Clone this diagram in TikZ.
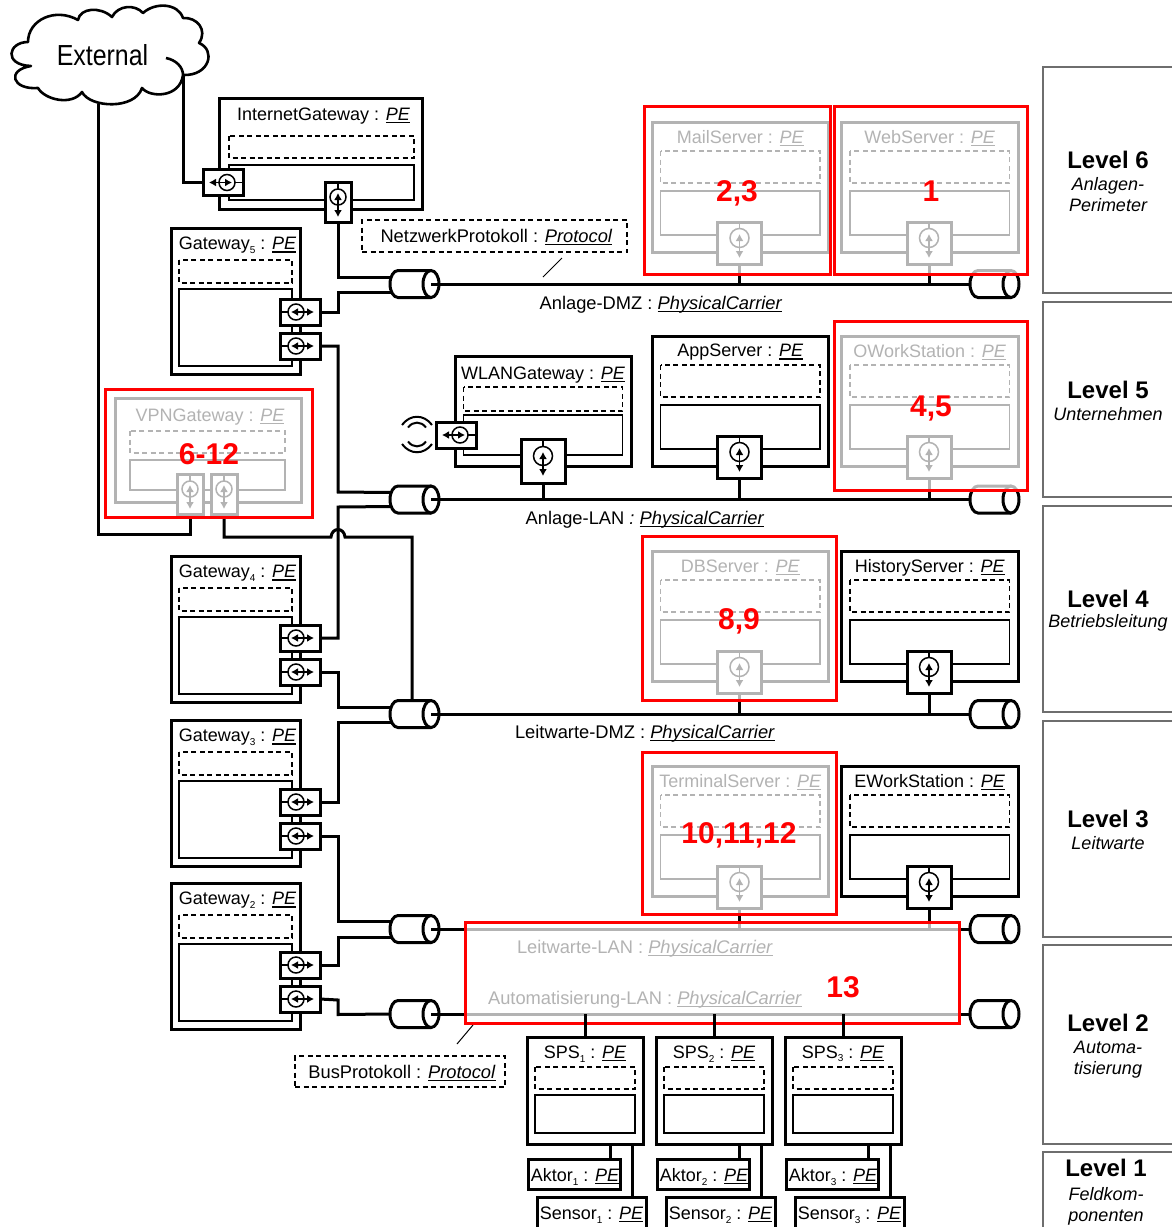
\documentclass[tikz,border=0pt]{standalone}
\usepackage{fontspec}
\setmainfont{Liberation Sans}
\usepackage{xcolor}
\usepackage{tikz}
\usetikzlibrary{arrows.meta}

\definecolor{levelgray}{HTML}{6E6E6E}
\definecolor{markred}{HTML}{FF0000}

\newcommand{\cls}[1]{\sbox0{\textit{#1}}\rlap{\rule[-2.6pt]{\wd0}{1.2pt}}\usebox0}
\newcommand{\lowidx}[1]{\raisebox{-3.5pt}{\fontsize{10}{10}\selectfont #1}}

\tikzset{
  pebox/.style={draw,line width=3pt,inner sep=0pt,outer sep=0pt,fill=white},
  petitle/.style={font=\fontsize{18}{20}\selectfont,inner sep=0pt},
  labeltext/.style={font=\fontsize{18.3}{20}\selectfont,inner sep=0pt},
  dashin/.style={line width=1.7pt,dash pattern=on 5pt off 3.5pt},
  solidin/.style={line width=1.9pt},
  portbox/.style={draw,line width=3pt,fill=white,inner sep=0pt,outer sep=0pt},
  portline/.style={line width=1.5pt},
  portarrow/.style={line width=1.6pt,>={Latex[length=7pt,width=8pt]},<->},
  wire/.style={line width=3pt,line join=miter},
  thinwire/.style={line width=1pt},
  carrier/.style={minimum width=49pt,minimum height=27pt,inner sep=0pt,outer sep=0pt},
  carrierline/.style={line width=3pt},
  notebox/.style={draw,line width=1.7pt,dash pattern=on 5pt off 3.5pt,inner sep=0pt,font=\fontsize{18.3}{20}\selectfont},
  redbox/.style={draw=markred,line width=3pt,fill=white,fill opacity=.7,draw opacity=1,inner sep=0pt,outer sep=0pt,anchor=north west},
  rednum/.style={text=markred,font=\bfseries\fontsize{30}{32}\selectfont,inner sep=0pt},
  leveltitle/.style={font=\bfseries\fontsize{24}{26}\selectfont,inner sep=0pt},
  levelsub/.style={font=\itshape\fontsize{18}{21}\selectfont,align=center,inner sep=0pt},
  levelline/.style={draw=levelgray,line width=2.5pt},
}

% name, x, y, width, height, title offset, title
\newcommand{\pe}[7]{
  \node[pebox,minimum width=#4,minimum height=#5,anchor=north west] (#1) at (#2,#3) {};
  \node[petitle] (#1t) at ([yshift=-#6pt]#1.north) {#7};
}
% name, inset, dashed top, dashed bottom, solid top, solid bottom
\newcommand{\pein}[6]{
  \draw[dashin] ([shift={(#2pt,-#3pt)}]#1.north west) rectangle ([shift={(-#2pt,-#4pt)}]#1.north east);
  \draw[solidin] ([shift={(#2pt,-#5pt)}]#1.north west) rectangle ([shift={(-#2pt,-#6pt)}]#1.north east);
}
% name, x, y, side (1: circle left, -1: circle right)
\newcommand{\hport}[4]{
  \node[portbox,minimum width=40,minimum height=26] (#1) at (#2,#3) {};
  \draw[portline] ([xshift=-#4*20pt]#1.center) -- ([xshift=-#4*12pt]#1.center);
  \draw[portline] ([xshift=-#4*4pt]#1.center) circle[radius=8pt];
  \draw[portarrow] ([xshift=-#4*9pt]#1.center) -- ([xshift=#4*14pt]#1.center);
}
% name, x, y, width, height, radius
\newcommand{\vport}[6]{
  \node[portbox,minimum width=#4,minimum height=#5] (#1) at (#2,#3) {};
  \draw[portline] (#1.north) -- ++(0,7);
  \draw[portline] ([yshift=5pt]#1.center) circle[radius=#6pt];
  \draw[portarrow] ([yshift=9pt]#1.center) -- ([yshift=-15pt]#1.center);
}
% name, x, y, title
\newcommand{\server}[4]{
  \pe{#1}{#2}{#3}{176.5}{130}{16.5}{#4}
  \pein{#1}{8.5}{29}{61}{69}{113}
  \vport{#1p}{#2+87.5}{#3+121}{44}{42}{9.5}
}
% name, y, index, port offset
\newcommand{\gateway}[4]{
  \pe{#1}{171}{#2}{129}{146}{17.5}{\hspace{4pt}Gateway\lowidx{#3} : \cls{PE}}
  \pein{#1}{8}{32}{55}{61}{138}
  \hport{#1a}{300}{#2+#4}{1}
  \hport{#1b}{300}{#2+#4+34}{1}
}
% name, y
\newcommand{\carrierpart}[2]{
  \node[carrier] (#1) at (#2) {};
  \draw[carrierline,fill=white] ([xshift=16.5pt]#1.north) -- ([xshift=-16.5pt]#1.north)
    arc[start angle=90,end angle=270,x radius=8pt,y radius=13.5pt] -- ([xshift=16.5pt]#1.south);
  \draw[carrierline,fill=white] ([xshift=16.5pt]#1.center) ellipse[x radius=8pt,y radius=13.5pt];
}

\begin{document}
\begin{tikzpicture}[x=1pt,y=-1pt]
  \useasboundingbox (0,0) rectangle (1172,1227);
  \clip (0,0) rectangle (1172,1227);
  \fill[white] (0,0) rectangle (1172,1227);

  % level frames
  \draw[levelline] (1172,67) -- (1043,67) -- (1043,293) -- (1172,293);
  \draw[levelline] (1172,302) -- (1043,302) -- (1043,497) -- (1172,497);
  \draw[levelline] (1172,506) -- (1043,506) -- (1043,712) -- (1172,712);
  \draw[levelline] (1172,721) -- (1043,721) -- (1043,937) -- (1172,937);
  \draw[levelline] (1172,945) -- (1043,945) -- (1043,1144) -- (1172,1144);
  \draw[levelline] (1172,1152) -- (1043,1152) -- (1043,1240);
  \node[leveltitle] (lev6) at (1108,160) {Level 6};
  \node[levelsub] (lev6s) at (1108,195) {Anlagen-\\Perimeter};
  \node[leveltitle] (lev5) at (1108,390) {Level 5};
  \node[levelsub] (lev5s) at (1108,414) {Unternehmen};
  \node[leveltitle] (lev4) at (1108,599) {Level 4};
  \node[levelsub] (lev4s) at (1108,623) {Betriebsleitung};
  \node[leveltitle] (lev3) at (1108,819) {Level 3};
  \node[levelsub] (lev3s) at (1108,843) {Leitwarte};
  \node[leveltitle] (lev2) at (1108,1023) {Level 2};
  \node[levelsub] (lev2s) at (1108,1060) {Automa-\\tisierung};
  \node[leveltitle] (lev1) at (1106,1168) {Level 1};
  \node[levelsub] (lev1s) at (1106,1206) {Feldkom-\\ponenten};

  % cloud
  \draw[line width=2.6pt,line join=round] (166,58) .. controls (176,60) and (183,67) .. (183,75)
    .. controls (210,76) and (216,50) .. (199,43)
    .. controls (208,30) and (197,17) .. (183,18)
    .. controls (178,3) and (155,2) .. (143,13)
    .. controls (135,4) and (118,5) .. (112,17)
    .. controls (100,6) and (80,8) .. (78,20)
    .. controls (55,7) and (28,20) .. (28,42)
    .. controls (8,42) and (3,65) .. (31,66)
    .. controls (6,70) and (12,90) .. (38,88)
    .. controls (45,100) and (72,106) .. (82,92)
    .. controls (90,108) and (135,110) .. (142,88)
    .. controls (150,98) and (180,98) .. (183,75);
  \node[inner sep=0pt] (external) at (102.5,55) {\fontsize{29}{30}\selectfont\scalebox{.86}[1]{External}};
  \coordinate (extA) at (183,75);
  \coordinate (extB) at (98,104);

  % elements
  \pe{inet}{219}{98}{203}{111}{18}{\hspace{6pt}InternetGateway : \cls{PE}}
  \draw[dashin] (229,136) rectangle (414,158);
  \draw[solidin] (229,165) rectangle (414,200);
  \hport{ineta}{223}{182.5}{-1}
  \vport{inetb}{338}{202}{26}{40}{8}

  \gateway{gwf}{228}{5}{84}
  \gateway{gwv}{556}{4}{82}
  \gateway{gwd}{720}{3}{82}
  \gateway{gwz}{883}{2}{82}

  \pe{vpn}{115}{398}{186}{104}{19}{\hspace{4pt}VPNGateway : \cls{PE}}
  \draw[dashin] (130,431) rectangle (285,453);
  \draw[solidin] (130,460) rectangle (285,490);
  \vport{vpna}{190}{494}{26}{40}{8}
  \vport{vpnb}{224}{494}{26}{40}{8}

  \pe{wlan}{455}{356}{176}{110}{19}{WLANGateway : \cls{PE}}
  \pein{wlan}{8.5}{31}{55}{59}{99}
  \hport{wlana}{456}{435}{-1}
  \vport{wlanb}{543}{461}{44}{44}{9.5}
  \draw[line width=2pt] (402,425) .. controls (410,414) and (424,414) .. (432,425);
  \draw[line width=2pt] (408,427.5) .. controls (413,421) and (421,421) .. (426,427.5);
  \draw[line width=2pt] (402,444) .. controls (410,455) and (424,455) .. (432,444);
  \draw[line width=2pt] (408,441.5) .. controls (413,448) and (421,448) .. (426,441.5);

  \server{mail}{652}{122}{MailServer : \cls{PE}}
  \server{web}{841.5}{122}{WebServer : \cls{PE}}
  \server{app}{652}{336}{AppServer : \cls{PE}}
  \server{owork}{841.5}{336}{OWorkStation : \cls{PE}}
  \server{db}{652}{551}{DBServer : \cls{PE}}
  \server{hist}{841.5}{551}{HistoryServer : \cls{PE}}
  \server{term}{652}{766}{TerminalServer : \cls{PE}}
  \server{ework}{841.5}{766}{EWorkStation : \cls{PE}}

  % carriers
  \foreach \n/\y in {dmz/284,lan/499.5,ldmz/714,llan/929,auto/1014} {
    \carrierpart{\n L}{414.5,\y}
    \carrierpart{\n R}{994.5,\y}
    \draw[wire] ([xshift=-8pt]\n L.east) -- (\n R.west);
  }

  % wires
  \draw[wire] (extA) -- (extA |- ineta.west) -- (ineta.west);
  \draw[wire] (inetb.south) -- (338,277) -- ([shift={(1.5pt,7pt)}]dmzL.west);
  \draw[wire] (gwfa.east) -- (338,312) -- (338,292) -- ([shift={(1.5pt,-8pt)}]dmzL.west);
  \draw[wire] (gwfb.east) -- (338,346) -- (338,492) -- ([shift={(1.5pt,7pt)}]lanL.west);
  \draw[wire] (gwva.east) -- (338,638) -- (338,507) -- ([shift={(1.5pt,-7pt)}]lanL.west);
  \draw[wire] (gwvb.east) -- (338,672) -- (338,707) -- ([shift={(1.5pt,7pt)}]ldmzL.west);
  \draw[wire] (gwda.east) -- (338,802) -- (338,722) -- ([shift={(1.5pt,-8pt)}]ldmzL.west);
  \draw[wire] (gwdb.east) -- (338,836) -- (338,921) -- ([shift={(1.5pt,8pt)}]llanL.west);
  \draw[wire] (gwza.east) -- (338,965) -- (338,937) -- ([shift={(1.5pt,-8pt)}]llanL.west);
  \draw[wire] (gwzb.east) -- (338,1000) -- (338,1014.5) -- (autoL.west);
  \draw[wire] (vpna.south) -- (190,534.5) -- (98,534.5) -- (extB);
  \draw[wire] (vpnb.south) -- (224,537) -- (331,537) .. controls (332,527) and (344,527) .. (345,537)
    -- (412,537) -- ([xshift=-2.5pt]ldmzL.north);
  \draw[wire] (wlanb.south) -- (wlanb.south |- lanL.center);
  \draw[wire] (appp.south) -- (appp.south |- lanL.center);
  \draw[wire] (oworkp.south) -- (oworkp.south |- lanL.center);
  \draw[wire] (mailp.south) -- (mailp.south |- dmzL.center);
  \draw[wire] (webp.south) -- (webp.south |- dmzL.center);
  \draw[wire] (dbp.south) -- (dbp.south |- ldmzL.center);
  \draw[wire] (histp.south) -- (histp.south |- ldmzL.center);
  \draw[wire] (termp.south) -- (termp.south |- llanL.center);
  \draw[wire] (eworkp.south) -- (eworkp.south |- llanL.center);

  % labels
  \node[labeltext] (dmzt) at (661,305) {Anlage-DMZ : \cls{PhysicalCarrier}};
  \node[labeltext] (lant) at (645,520) {Anlage-LAN \textit{:} \cls{PhysicalCarrier}};
  \node[labeltext] (ldmzt) at (645,734) {Leitwarte-DMZ : \cls{PhysicalCarrier}};
  \node[labeltext] (llant) at (645,949) {Leitwarte-LAN : \cls{PhysicalCarrier}};
  \node[labeltext] (autot) at (645,1000) {Automatisierung-LAN : \cls{PhysicalCarrier}};

  \node[notebox,minimum width=265,minimum height=32] (netz) at (494.5,236) {\hspace{4pt}\raisebox{-6.5pt}[0pt][0pt]{NetzwerkProtokoll : \cls{Protocol}}};
  \coordinate (netzA) at (562,258);
  \coordinate (netzB) at (543,277);
  \draw[thinwire] (netzA) -- (netzB);
  \node[notebox,minimum width=210,minimum height=31] (bus) at (400,1071.5) {\hspace{4pt}\raisebox{-7pt}[0pt][0pt]{BusProtokoll : \cls{Protocol}}};
  \coordinate (busA) at (473,1025);
  \coordinate (busB) at (457,1044);
  \draw[thinwire] (busA) -- (busB);

  % faded parts
  \node[redbox,minimum width=186,minimum height=168] (markmail) at (644,106) {};
  \node[redbox,minimum width=193,minimum height=168] (markweb) at (834,106) {};
  \node[redbox,minimum width=193,minimum height=169] (markowork) at (834,321) {};
  \node[redbox,minimum width=207,minimum height=128] (markvpn) at (105,389) {};
  \node[redbox,minimum width=194,minimum height=164] (markdb) at (642,536) {};
  \node[redbox,minimum width=194,minimum height=162] (markterm) at (642,752) {};
  \node[redbox,minimum width=494,minimum height=101] (markbus) at (465,922) {};
  \node[rednum] (nummail) at (737,193) {2,3};
  \node[rednum] (numweb) at (931,191) {1};
  \node[rednum] (numowork) at (931,408) {4,5};
  \node[rednum] (numvpn) at (209,454) {6-12};
  \node[rednum] (numdb) at (739,621) {8,9};
  \node[rednum] (numterm) at (739,835) {10,11,12};
  \node[rednum] (numbus) at (843,987) {13};

  % field level
  \foreach \i/\x in {1/527,2/656,3/785} {
    \pe{sps\i}{\x}{1037}{116}{107}{17}{SPS\lowidx{\i} : \cls{PE}}
    \pein{sps\i}{8}{30}{52}{58}{96}
    \draw[wire] (sps\i.north) -- (sps\i.north |- autoL.center);
    \node[pebox,minimum width=92,minimum height=30,anchor=north west,font=\fontsize{18}{20}\selectfont] (aktor\i) at (\x+1,1159) {\hspace{2pt}\raisebox{-7.5pt}[0pt][0pt]{Aktor\lowidx{\i} : \cls{PE}}};
    \node[pebox,minimum width=109,minimum height=50,anchor=north west] (sensor\i) at (\x+10,1197) {};
    \node[petitle] (sensor\i t) at ([yshift=-18pt]sensor\i.north) {Sensor\lowidx{\i} : \cls{PE}};
    \draw[wire] ([xshift=36pt]aktor\i.north) -- ([xshift=36pt]aktor\i.north |- sps\i.south);
    \draw[wire] ([xshift=40.5pt]sensor\i.north) -- ([xshift=40.5pt]sensor\i.north |- sps\i.south);
  }
\end{tikzpicture}
\end{document}
